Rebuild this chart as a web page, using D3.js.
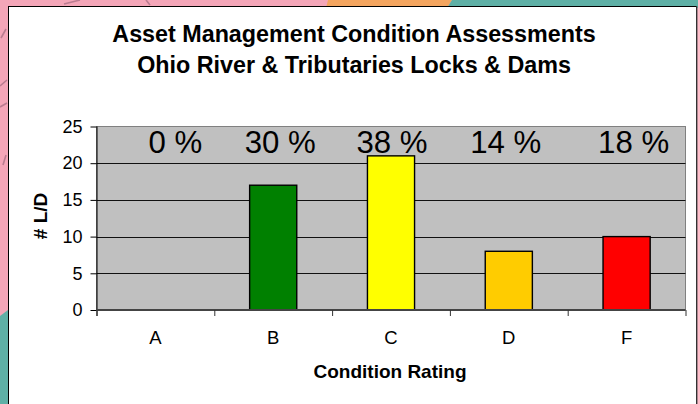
<!DOCTYPE html>
<html lang="en">

<head>
    <meta charset="UTF-8">
    <title>Condition Assessments</title>
    <script src="https://d3js.org/d3.v7.min.js"></script>
    <style>
        html, body { margin: 0; padding: 0; background: #fff; }
        svg { display: block; }
        text { font-family: "Liberation Sans", Arial, sans-serif; fill: #000; }
    </style>
</head>

<body>
    <svg width="698" height="404"></svg>
    <script>
        var categories = ['A', 'B', 'C', 'D', 'F']
        var counts = [0, 17, 21, 8, 10]
        var percents = ['0 %', '30 %', '38 %', '14 %', '18 %']
        var barColors = ['#808080', '#008000', '#ffff00', '#ffcc00', '#ff0000']
        var yTicks = [0, 5, 10, 15, 20, 25]
        var titleLines = ['Asset Management Condition Assessments', 'Ohio River & Tributaries Locks & Dams']

        var svg = d3.select('svg');
        var plotL = 96.5, plotR = 685.5, plotT = 126.5, plotB = 310

        // map picture behind the chart
        svg.append('rect').attr('width', 698).attr('height', 404).attr('fill', '#f4a6b8')
        svg.append('path').attr('d', 'M328,0H452L447,8H326Z').attr('fill', '#f4a55f')
        svg.append('path').attr('d', 'M452,0H698V8H447Z').attr('fill', '#5fb0a6')
        svg.append('path').attr('d', 'M0,316L8,310V404H0Z').attr('fill', '#5fb0a6')
        svg.append('path').attr('d', 'M1,38L6,29M0,86L7,80M0,107L7,103M3,165L6,155M64,4L80,0M146,0L150,5')
            .attr('fill', 'none').attr('stroke', '#8a5a70').attr('stroke-width', 1.6).attr('opacity', 0.55)

        // white chart area
        svg.append('rect').attr('x', 8.5).attr('y', 6.5).attr('width', 688).attr('height', 400)
            .attr('fill', '#fff').attr('stroke', '#000').attr('stroke-width', 1)
        svg.append('line').attr('x1', 697).attr('x2', 697).attr('y1', 6).attr('y2', 404)
            .attr('stroke', '#666').attr('stroke-width', 1)

        var scaleX = d3.scaleBand().domain(categories).range([plotL, plotR]).paddingInner(0.6).paddingOuter(0.3)
        var tickX = d3.scaleLinear().domain([0, categories.length]).range([plotL, plotR])
        var scaleY = d3.scaleLinear().domain([0, 25]).range([plotB, plotT])

        svg.append('rect').attr('x', plotL).attr('y', plotT).attr('width', plotR - plotL).attr('height', plotB - plotT)
            .attr('fill', '#c0c0c0').attr('stroke', '#808080').attr('stroke-width', 1)

        // gridlines
        svg.append('g').selectAll('line').data(yTicks.slice(1, 5)).enter().append('line')
            .attr('x1', plotL).attr('x2', plotR)
            .attr('y1', function (d) { return Math.round(scaleY(d)) + 0.5 })
            .attr('y2', function (d) { return Math.round(scaleY(d)) + 0.5 })
            .attr('stroke', '#111').attr('stroke-width', 1)

        // bars
        svg.append('g').selectAll('rect').data(counts).enter().append('rect')
            .attr('x', function (d, i) { return scaleX(categories[i]) })
            .attr('y', function (d) { return scaleY(d) })
            .attr('width', scaleX.bandwidth())
            .attr('height', function (d) { return plotB - scaleY(d) })
            .attr('fill', function (d, i) { return barColors[i] })
            .attr('stroke', function (d) { return d > 0 ? '#000' : 'none' })
            .attr('stroke-width', 1.4)

        // axes
        var axisY = d3.axisLeft(scaleY).tickValues(yTicks).tickSize(6).tickPadding(8)
        var gy = svg.append('g').attr('transform', 'translate(' + plotL + ',0)').call(axisY)
        gy.selectAll('text').attr('font-size', 18).attr('font-family', '"Liberation Sans", Arial, sans-serif').attr('fill', '#111')
        gy.select('.domain').attr('stroke', '#000').attr('d', 'M0.5,' + plotT + 'V' + (plotB + 6))
        gy.selectAll('.tick line').attr('stroke', '#000')

        var axisX = d3.axisBottom(tickX).tickValues(d3.range(categories.length + 1)).tickSize(6).tickFormat('')
        var gx = svg.append('g').attr('transform', 'translate(0,' + plotB + ')').call(axisX)
        gx.select('.domain').attr('stroke', '#444').attr('stroke-width', 2).attr('d', 'M' + plotL + ',0H' + plotR)
        gx.selectAll('.tick line').attr('stroke', '#333')

        svg.append('g').selectAll('text').data(categories).enter().append('text')
            .attr('x', function (d) { return scaleX(d) + scaleX.bandwidth() / 2 })
            .attr('y', 344)
            .attr('text-anchor', 'middle').attr('font-size', 18.5)
            .text(function (d) { return d })

        // percent labels sit in hand placed text boxes in the original
        var labelShift = [20, 7, 1, -3, 7]
        svg.append('g').selectAll('text').data(percents).enter().append('text')
            .attr('x', function (d, i) { return scaleX(categories[i]) + scaleX.bandwidth() / 2 + labelShift[i] })
            .attr('y', 153)
            .attr('text-anchor', 'middle').attr('font-size', 31.2)
            .attr('fill', '#111')
            .text(function (d) { return d })

        // titles
        svg.append('g').selectAll('text').data(titleLines).enter().append('text')
            .attr('x', 354)
            .attr('y', function (d, i) { return 42 + i * 31 })
            .attr('text-anchor', 'middle').attr('font-size', 23.3).attr('font-weight', 'bold')
            .text(function (d) { return d })

        svg.append('text').attr('x', 390).attr('y', 378)
            .attr('text-anchor', 'middle').attr('font-size', 19).attr('font-weight', 'bold')
            .text('Condition Rating')

        svg.append('text').attr('transform', 'translate(47,216) rotate(-90)')
            .attr('text-anchor', 'middle').attr('font-size', 19).attr('font-weight', 'bold')
            .text('# L/D')
    </script>
</body>

</html>
